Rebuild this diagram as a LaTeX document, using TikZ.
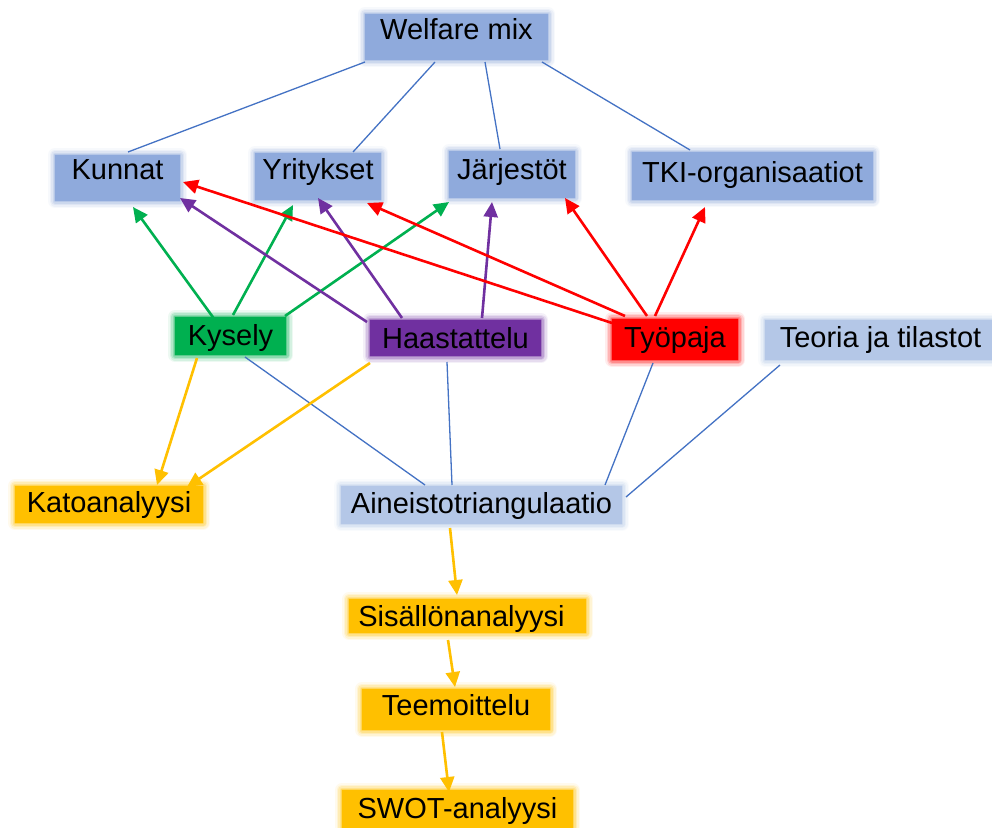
\documentclass[tikz,border=0pt]{standalone}
\usepackage{fontspec}
\setmainfont{Liberation Sans}
\usetikzlibrary{arrows.meta,calc}
\definecolor{boxblue}{HTML}{8FAADC}
\definecolor{paleblue}{HTML}{B4C7E7}
\definecolor{kgreen}{HTML}{00B050}
\definecolor{kpurple}{HTML}{7030A0}
\definecolor{kred}{HTML}{FF0000}
\definecolor{korange}{HTML}{FFC000}
\definecolor{lineblue}{HTML}{4472C4}
\begin{document}
\begin{tikzpicture}[x=1pt,y=-1pt,
  box/.style={rectangle, fill=#1, inner sep=0pt,
    font=\fontsize{29}{32}\selectfont, text height=21pt, line join=round,
    preaction={draw=#1, line width=14pt, draw opacity=0.07},
    preaction={draw=#1, line width=11pt, draw opacity=0.10},
    preaction={draw=#1, line width=8pt, draw opacity=0.15},
    preaction={draw=#1, line width=5pt, draw opacity=0.22},
    preaction={draw=#1, line width=2pt, draw opacity=0.35}},
  sz/.style n args={3}{minimum width=#1pt, minimum height=#2pt, text depth=#3pt},
  link/.style={draw=lineblue, line width=1.3pt},
  arr/.style={draw=#1, line width=2.6pt, -{Triangle[length=15pt,width=14pt]}},
]
\fill[white] (0,0) rectangle (992,827);
\useasboundingbox (0,0) rectangle (992,827);

% top level
\node[box=boxblue, sz={183}{46}{16}] (wm) at (456.5,37) {Welfare mix};

% sectors
\node[box=boxblue, sz={125}{46}{19}] (ku) at (117.5,178) {Kunnat};
\node[box=boxblue, sz={126}{47}{16}] (yr) at (318,176.5) {Yritykset};
\node[box=boxblue, sz={126}{47}{12}] (ja) at (512,174.5) {Järjestöt};
\node[box=boxblue, sz={241}{48}{8}] (tk) at (752.5,176) {TKI-organisaatiot};

% data collection methods
\node[box=kgreen, sz={111}{38}{2}] (ky) at (230.5,336) {Kysely};
\node[box=kpurple, sz={171}{36}{1}] (ha) at (455.5,338) {Haastattelu};
\node[box=kred, sz={126}{41}{5}] (ty) at (675,339.5) {Työpaja};
\node[box=paleblue, sz={231}{40}{6}] (te) at (880.5,340) {Teoria ja tilastot};

% analysis
\node[box=korange, sz={188}{37}{5}] (ka) at (109,504.5) {Katoanalyysi};
\node[box=paleblue, sz={281}{38}{5}] (ai) at (481.5,505) {Aineistotriangulaatio};
\node[box=korange, sz={237}{34}{0}] (si) at (467.5,616) {Sisällönanalyysi\hspace*{12pt}};
\node[box=korange, sz={188}{41}{9}] (tm) at (456,709.5) {Teemoittelu};
\node[box=korange, sz={231}{38}{3}] (sw) at (457.5,809) {SWOT-analyysi};

% welfare mix to sectors
\draw[link] ($(wm)+(-91.5,25)$) -- ($(ku)+(10.5,-26)$);
\draw[link] ($(wm)+(-21.5,25)$) -- ($(yr)+(35,-24.5)$);
\draw[link] ($(wm)+(28.5,25)$) -- ($(ja)+(-12,-25.5)$);
\draw[link] ($(wm)+(85.5,25)$) -- ($(tk)+(-62.5,-26)$);

% survey
\draw[arr=kgreen] ($(ky)+(-15.5,-16)$) -- ($(ku)+(15.5,29)$);
\draw[arr=kgreen] ($(ky)+(2.5,-21)$) -- ($(yr)+(-25,28.5)$);
\draw[arr=kgreen] ($(ky)+(54.5,-20)$) -- ($(ja)+(-63,27.5)$);

% interviews
\draw[arr=kpurple] ($(ha)+(-88.5,-16)$) -- ($(ku)+(62.5,20)$);
\draw[arr=kpurple] ($(ha)+(-53.5,-20)$) -- ($(yr)+(0,21.5)$);
\draw[arr=kpurple] ($(ha)+(26.5,-20)$) -- ($(ja)+(-20,27.5)$);

% workshop
\draw[arr=kred] ($(ty)+(-63,-16.5)$) -- ($(ku)+(65.5,4)$);
\draw[arr=kred] ($(ty)+(-50,-23.5)$) -- ($(yr)+(49,26.5)$);
\draw[arr=kred] ($(ty)+(-28,-23.5)$) -- ($(ja)+(53,23.5)$);
\draw[arr=kred] ($(ty)+(-20,-23.5)$) -- ($(tk)+(-47.5,31)$);

% triangulation
\draw[link] ($(ky)+(14.5,21)$) -- ($(ai)+(-56.5,-20)$);
\draw[link] ($(ha)+(-8.5,24)$) -- ($(ai)+(-29.5,-20)$);
\draw[link] ($(ty)+(-22,23.5)$) -- ($(ai)+(123.5,-20)$);
\draw[link] ($(te)+(-100.5,25)$) -- ($(ai)+(144.5,-8)$);

% analysis chain
\draw[arr=korange] ($(ky)+(-33.5,22)$) -- ($(ka)+(48,-19.5)$);
\draw[arr=korange] ($(ha)+(-85.5,25)$) -- ($(ka)+(78,-17.5)$);
\draw[arr=korange] ($(ai)+(-31.5,23)$) -- ($(si)+(-10.5,-21)$);
\draw[arr=korange] ($(si)+(-19.5,24)$) -- ($(tm)+(-1,-22.5)$);
\draw[arr=korange] ($(tm)+(-14,22.5)$) -- ($(sw)+(-8.5,-17)$);
\end{tikzpicture}
\end{document}
